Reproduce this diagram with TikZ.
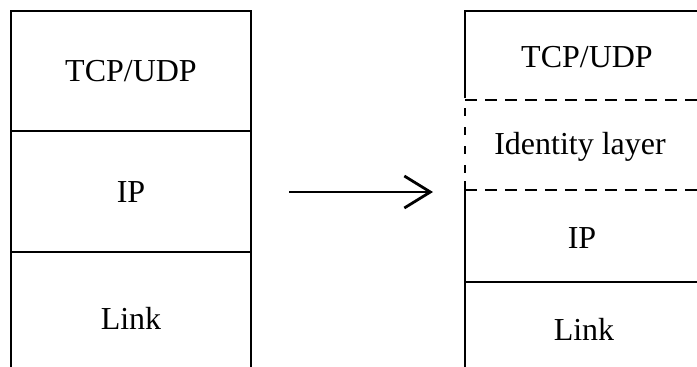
\documentclass[tikz,border=0pt]{standalone}
\usepackage{fontspec}
\setmainfont{Liberation Serif}
\usetikzlibrary{arrows.meta}
\begin{document}
\begin{tikzpicture}[x=1pt,y=-1pt,
  solidline/.style={line width=2pt},
  dashline/.style={line width=1.6pt, dash pattern=on 12pt off 8pt},
  vdashline/.style={line width=1.6pt, dash pattern=on 8pt off 11pt},
  lbl/.style={font=\fontsize{32}{32}\selectfont, inner sep=0pt, anchor=center}]
\useasboundingbox (0,0) rectangle (697,367);
% left stack
\draw[solidline] (11,370) -- (11,11) -- (251,11) -- (251,370);
\draw[solidline] (11,131) -- (251,131);
\draw[solidline] (11,252) -- (251,252);
\node[lbl] (ltcp) at (131,71) {TCP/UDP};
\node[lbl] (lip) at (131,192) {IP};
\node[lbl] (llink) at (131,318) {Link};
% right stack
\draw[solidline] (465,98) -- (465,11) -- (705,11);
\draw[solidline] (465,181) -- (465,370);
\draw[dashline] (465,100) -- (705,100);
\draw[dashline] (465,190) -- (705,190);
\draw[vdashline] (465,108) -- (465,180);
\draw[solidline] (465,282) -- (705,282);
\node[lbl] (rtcp) at (587,57) {TCP/UDP};
\node[lbl] (rid) at (580,147) {Identity layer};
\node[lbl] (rip) at (582,238) {IP};
\node[lbl] (rlink) at (584,329) {Link};
% arrow
\coordinate (a1) at (289,192);
\coordinate (a2) at (433,192);
\draw[line width=2.8pt, -{Straight Barb[length=26pt,width=32pt,line width=2.8pt]}] (a1) -- (a2);
\end{tikzpicture}
\end{document}
